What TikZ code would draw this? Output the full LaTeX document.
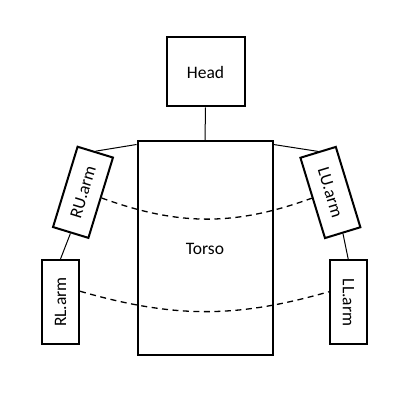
\documentclass[tikz,border=0pt]{standalone}
\usepackage{fontspec}
\setmainfont{Carlito}
\usetikzlibrary{calc}
\begin{document}
\begin{tikzpicture}[x=1pt,y=1pt,
  part/.style={draw=black, line width=2pt, fill=none, inner sep=0pt, font=\fontsize{17.5}{20}\selectfont},
  armbox/.style={part, minimum width=84pt, minimum height=37pt},
  link/.style={draw=black, line width=1pt},
  dlink/.style={draw=black, line width=1.3pt, dash pattern=on 6pt off 4.5pt}]
\path[use as bounding box] (0,0) rectangle (415,415);
\node[part, minimum width=78pt, minimum height=69pt] (head) at (205.5,343) {Head};
\node[part, minimum width=135pt, minimum height=214pt] (torso) at (205,166.5) {Torso};
\node[armbox, rotate=73] (RU) at (83,222.7) {RU.arm};
\node[armbox, rotate=-73] (LU) at (330.4,222.5) {LU.arm};
\node[armbox, rotate=90] (RL) at (60.5,113) {RL.arm};
\node[armbox, rotate=-90] (LL) at (348.3,112.5) {LL.arm};
\coordinate (tl) at ($(torso.north west)+(0,-4)$);
\coordinate (tr) at ($(torso.north east)+(0,-4)$);
\draw[link] (head.south) -- (torso.north);
\draw[link] (RU.east) -- (tl);
\draw[link] (LU.west) -- (tr);
\draw[link] (RU.west) -- (RL.east);
\draw[link] (LU.east) -- (LL.west);
\draw[dlink] (RU.south) to[out=-20, in=200] (LU.south);
\draw[dlink] ($(RL.south)!0.25!(RL.south east)$) to[out=-16, in=196] ($(LL.south)!0.25!(LL.south west)$);
\end{tikzpicture}
\end{document}
